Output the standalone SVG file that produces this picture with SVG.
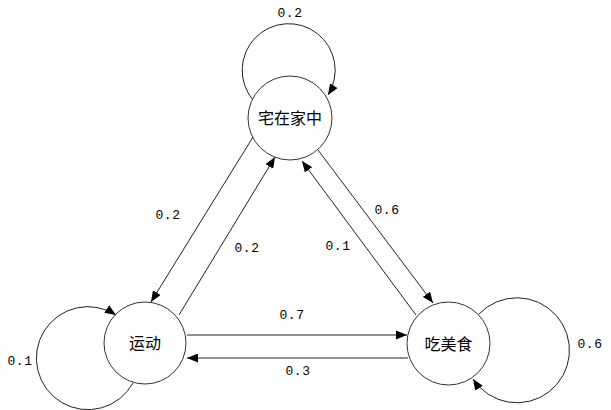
<svg xmlns="http://www.w3.org/2000/svg" width="611" height="410" viewBox="0 0 611 410">
<style>
.node{fill:#fff;stroke:#333;stroke-width:1}
.nt{font-family:"Noto Sans CJK SC","Noto Sans CJK JP",sans-serif;font-size:16px;text-anchor:middle;fill:#000}
.lb{font-family:"Liberation Mono","DejaVu Sans Mono",monospace;font-size:13px;letter-spacing:0.5px;text-anchor:middle;fill:#000}
.e{fill:none;stroke:#222;stroke-width:1;marker-end:url(#ah)}
</style>
<defs>
<marker id="ah" markerUnits="userSpaceOnUse" markerWidth="11" markerHeight="9" refX="11" refY="4.5" orient="auto">
<path d="M0,0 L11,4.5 L0,9 z" fill="#000"/>
</marker>
</defs>
<rect width="611" height="410" fill="#fff"/>
<g id="connectors">
<path class="e" d="M253,100 A46.5,46.5 0 1 1 328,95"/>
<path class="e" d="M133,383 A51.5,51.5 0 1 1 116,315"/>
<path class="e" d="M479,314 A52.5,52.5 0 1 1 473,379"/>
<line class="e" x1="253" y1="137" x2="151" y2="302"/>
<line class="e" x1="179" y1="315" x2="275" y2="157"/>
<line class="e" x1="416" y1="315" x2="302" y2="161"/>
<line class="e" x1="318" y1="150" x2="433" y2="303"/>
<line class="e" x1="187" y1="335" x2="407" y2="335"/>
<line class="e" x1="408" y1="358" x2="187" y2="358"/>
<text class="lb" x="290" y="16.5">0.2</text>
<text class="lb" x="20" y="364.5">0.1</text>
<text class="lb" x="590" y="347.5">0.6</text>
<text class="lb" x="168" y="218.5">0.2</text>
<text class="lb" x="247" y="251.5">0.2</text>
<text class="lb" x="338" y="249.5">0.1</text>
<text class="lb" x="387" y="213.5">0.6</text>
<text class="lb" x="292" y="318.5">0.7</text>
<text class="lb" x="298" y="374.5">0.3</text>
</g>
<g id="node-home">
<circle class="node" cx="290" cy="118" r="42"/>
<text class="nt" x="290" y="124">宅在家中</text>
</g>
<g id="node-sport">
<circle class="node" cx="145" cy="343" r="41"/>
<text class="nt" x="145" y="349">运动</text>
</g>
<g id="node-food">
<circle class="node" cx="448.5" cy="343.5" r="41.5"/>
<text class="nt" x="448.5" y="349.5">吃美食</text>
</g>
</svg>
